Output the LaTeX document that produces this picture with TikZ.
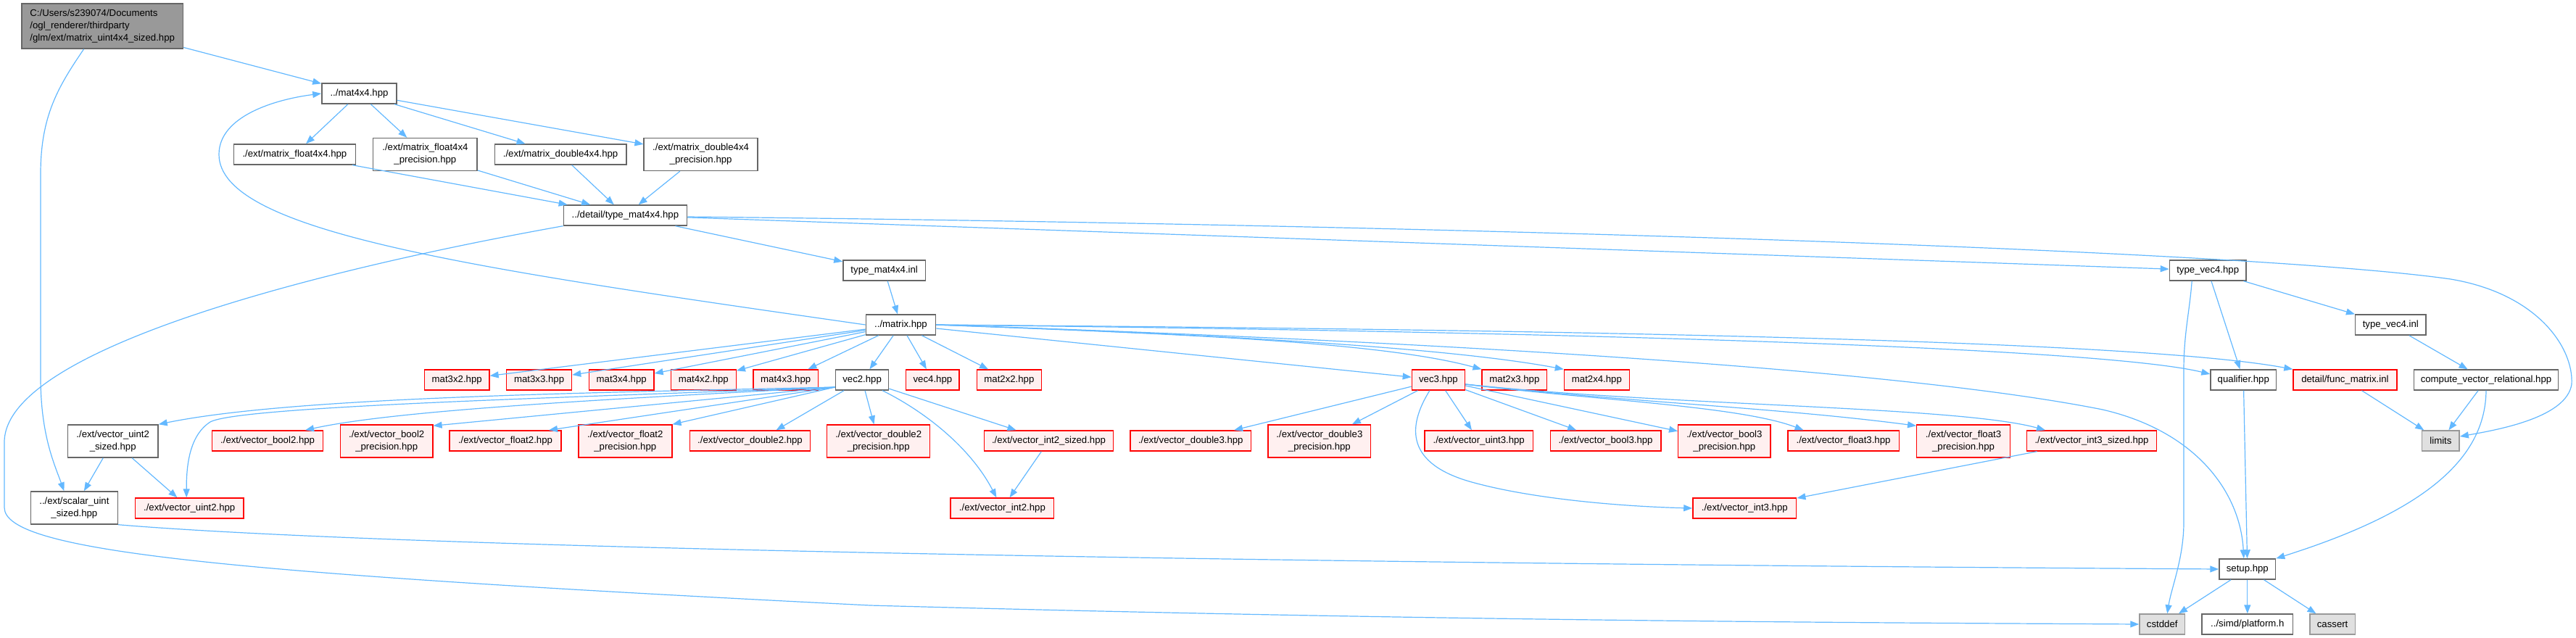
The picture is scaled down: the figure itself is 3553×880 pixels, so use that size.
\documentclass[tikz,border=0pt]{standalone}
\usepackage{fontspec}
\setmainfont{Liberation Sans}
\usetikzlibrary{arrows.meta}
\definecolor{edgeblue}{HTML}{63B8FF}
\definecolor{grayforty}{HTML}{666666}
\definecolor{graysixty}{HTML}{999999}
\definecolor{sysfill}{HTML}{E0E0E0}
\definecolor{redfill}{HTML}{FFF0F0}
\newcommand{\depfont}{\fontsize{13.2}{17}\selectfont}
\tikzstyle{hbox} = [rectangle, minimum height=28pt, inner sep=0pt, align=center, line width=1.4pt, font=\depfont]
\tikzstyle{hplain} = [hbox, draw=grayforty, fill=white]
\tikzstyle{hred} = [hbox, draw=red, fill=redfill]
\tikzstyle{hsys} = [hbox, draw=graysixty, fill=sysfill]
\tikzstyle{hroot} = [hbox, draw=grayforty, fill=graysixty, align=left, minimum height=62pt]
\tikzstyle{htwo} = [minimum height=45pt]
\tikzstyle{incl} = [draw=edgeblue, line width=1.2pt, -{Triangle[length=12pt,width=9pt]}]

\begin{document}
\begin{tikzpicture}[x=1pt, y=-1pt]
\useasboundingbox (0,0) rectangle (3553,880);
% Define nodes
\node (main) [hroot, minimum width=222.8] at (141.2,36) {C:/Users/s239074/Documents\\/ogl\_renderer/thirdparty\\/glm/ext/matrix\_uint4x4\_sized.hpp};
\node (mat4x4) [hplain, minimum width=103.3] at (495.5,129) {../mat4x4.hpp};
\node (matrixFloat4x4) [hplain, minimum width=168.4] at (406.4,213) {./ext/matrix\_float4x4.hpp};
\node (matrixFloat4x4Prec) [hplain, htwo, minimum width=143.5] at (586.4,213) {./ext/matrix\_float4x4\\\_precision.hpp};
\node (matrixDouble4x4) [hplain, minimum width=181.7] at (773.1,213) {./ext/matrix\_double4x4.hpp};
\node (matrixDouble4x4Prec) [hplain, htwo, minimum width=156.9] at (966.6,213) {./ext/matrix\_double4x4\\\_precision.hpp};
\node (typeMat4x4) [hplain, minimum width=170.3] at (862.4,297) {../detail/type\_mat4x4.hpp};
\node (typeMat4x4Inl) [hplain, minimum width=113.6] at (1219.7,373) {type\_mat4x4.inl};
\node (typeVec4) [hplain, minimum width=105.6] at (3045.2,373) {type\_vec4.hpp};
\node (matrix) [hplain, minimum width=96.4] at (1242.5,448) {../matrix.hpp};
\node (typeVec4Inl) [hplain, minimum width=97.3] at (3297.3,448) {type\_vec4.inl};
\node (mat3x2) [hred, minimum width=89.5] at (630.2,524) {mat3x2.hpp};
\node (mat3x3) [hred, minimum width=89.9] at (743.6,524) {mat3x3.hpp};
\node (mat3x4) [hred, minimum width=89.5] at (857.2,524) {mat3x4.hpp};
\node (mat4x2) [hred, minimum width=89.9] at (970.3,524) {mat4x2.hpp};
\node (mat4x3) [hred, minimum width=89.5] at (1083.7,524) {mat4x3.hpp};
\node (vec2) [hplain, minimum width=73.1] at (1189.1,524) {vec2.hpp};
\node (vec4) [hred, minimum width=73.5] at (1286.4,524) {vec4.hpp};
\node (mat2x2) [hred, minimum width=89.2] at (1391.9,524) {mat2x2.hpp};
\node (vec3) [hred, minimum width=73.1] at (1983.9,524) {vec3.hpp};
\node (mat2x3) [hred, minimum width=89.5] at (2088.9,524) {mat2x3.hpp};
\node (mat2x4) [hred, minimum width=89.9] at (2202.4,524) {mat2x4.hpp};
\node (qualifier) [hplain, minimum width=90.6] at (3094.3,524) {qualifier.hpp};
\node (funcMatrix) [hred, minimum width=142.8] at (3234.4,524) {detail/func\_matrix.inl};
\node (computeVecRel) [hplain, minimum width=198.6] at (3429.0,524) {compute\_vector\_relational.hpp};
\node (vectorUint2Sized) [hplain, htwo, minimum width=124.7] at (155.7,608.5) {./ext/vector\_uint2\\\_sized.hpp};
\node (vectorBool2) [hred, minimum width=152.7] at (369.1,608) {./ext/vector\_bool2.hpp};
\node (vectorBool2Prec) [hred, htwo, minimum width=127.4] at (533.2,608.5) {./ext/vector\_bool2\\\_precision.hpp};
\node (vectorFloat2) [hred, minimum width=154.2] at (697.0,608) {./ext/vector\_float2.hpp};
\node (vectorFloat2Prec) [hred, htwo, minimum width=129.0] at (862.3,608.5) {./ext/vector\_float2\\\_precision.hpp};
\node (vectorDouble2) [hred, minimum width=166.4] at (1034.5,608) {./ext/vector\_double2.hpp};
\node (vectorDouble2Prec) [hred, htwo, minimum width=142.0] at (1211.7,608.5) {./ext/vector\_double2\\\_precision.hpp};
\node (vectorInt2Sized) [hred, minimum width=178.3] at (1446.5,608) {./ext/vector\_int2\_sized.hpp};
\node (vectorDouble3) [hred, minimum width=166.8] at (1642.3,608) {./ext/vector\_double3.hpp};
\node (vectorDouble3Prec) [hred, htwo, minimum width=141.6] at (1819.9,608.5) {./ext/vector\_double3\\\_precision.hpp};
\node (vectorUint3) [hred, minimum width=149.6] at (2039.7,608) {./ext/vector\_uint3.hpp};
\node (vectorBool3) [hred, minimum width=152.7] at (2214.6,608) {./ext/vector\_bool3.hpp};
\node (vectorBool3Prec) [hred, htwo, minimum width=127.4] at (2378.4,608.5) {./ext/vector\_bool3\\\_precision.hpp};
\node (vectorFloat3) [hred, minimum width=153.4] at (2542.5,608) {./ext/vector\_float3.hpp};
\node (vectorFloat3Prec) [hred, htwo, minimum width=128.6] at (2708.0,608.5) {./ext/vector\_float3\\\_precision.hpp};
\node (vectorInt3Sized) [hred, minimum width=178.7] at (2885.0,608) {./ext/vector\_int3\_sized.hpp};
\node (limits) [hsys, minimum width=51.5] at (3366.4,608) {limits};
\node (scalarUintSized) [hplain, htwo, minimum width=119.8] at (102.4,700.5) {../ext/scalar\_uint\\\_sized.hpp};
\node (vectorUint2) [hred, minimum width=149.6] at (261.2,701) {./ext/vector\_uint2.hpp};
\node (vectorInt2) [hred, minimum width=142.7] at (1382.4,701) {./ext/vector\_int2.hpp};
\node (vectorInt3) [hred, minimum width=142.8] at (2406.3,701) {./ext/vector\_int3.hpp};
\node (setup) [hplain, minimum width=77.6] at (3099.8,785) {setup.hpp};
\node (cstddef) [hsys, minimum width=62.4] at (2982.2,861) {cstddef};
\node (platform) [hplain, minimum width=125.6] at (3099.8,861) {../simd/platform.h};
\node (cassert) [hsys, minimum width=62.4] at (3217.1,861) {cassert};
% Connect nodes with arrows
\draw [incl] (main) -- (mat4x4);
\draw [incl] ([xshift=-25.6pt]main.south) .. controls (80,120) and (56,160) .. (56,240) -- (56,520) .. controls (56,600) and (75,640) .. ([xshift=-14pt]scalarUintSized.north);
\draw [incl] (mat4x4) -- (matrixFloat4x4);
\draw [incl] (mat4x4) -- (matrixFloat4x4Prec);
\draw [incl] (mat4x4) -- (matrixDouble4x4);
\draw [incl] (mat4x4) -- (matrixDouble4x4Prec);
\draw [incl] (matrixFloat4x4) -- (typeMat4x4);
\draw [incl] (matrixFloat4x4Prec) -- (typeMat4x4);
\draw [incl] (matrixDouble4x4) -- (typeMat4x4);
\draw [incl] (matrixDouble4x4Prec) -- (typeMat4x4);
\draw [incl] (typeMat4x4) -- (typeMat4x4Inl);
\draw [incl] (typeMat4x4) -- (typeVec4);
\draw [incl] ([yshift=-2pt]typeMat4x4.east) .. controls (2000,310) and (3100,345) .. (3380,385) .. controls (3500,405) and (3550,480) .. (3547,530) .. controls (3540,575) and (3450,592) .. ([yshift=6pt]limits.east);
\draw [incl] (typeMat4x4.south west) .. controls (450,370) and (6,480) .. (6,610) -- (6,700) .. controls (6,760) and (300,790) .. (1200,835) .. controls (2000,857) and (2600,859) .. (cstddef.west);
\draw [incl] (typeMat4x4Inl) -- (matrix);
\draw [incl] (matrix.west) .. controls (650,370) and (302,320) .. (302,213) .. controls (302,160) and (380,137) .. (mat4x4.west);
\draw [incl] (matrix) -- (mat3x2);
\draw [incl] (matrix) -- (mat3x3);
\draw [incl] (matrix) -- (mat3x4);
\draw [incl] (matrix) -- (mat4x2);
\draw [incl] (matrix) -- (mat4x3);
\draw [incl] (matrix) -- (vec2);
\draw [incl] (matrix) -- (vec4);
\draw [incl] (matrix) -- (mat2x2);
\draw [incl] (matrix) -- (vec3);
\draw [incl] (matrix.east) .. controls (1600,460) and (1900,470) .. (mat2x3.north west);
\draw [incl] (matrix.east) .. controls (1700,462) and (2000,480) .. (mat2x4.north west);
\draw [incl] (matrix.east) .. controls (2200,458) and (2900,480) .. ([yshift=8pt]qualifier.west);
\draw [incl] (matrix.east) .. controls (2200,455) and (2950,470) .. (funcMatrix.north west);
\draw [incl] (matrix.east) .. controls (1900,468) and (2600,505) .. (2900,565) .. controls (3030,595) and (3090,680) .. ([xshift=-5pt]setup.north);
\draw [incl] ([yshift=-10pt]vec2.west) .. controls (800,542) and (400,548) .. (vectorUint2Sized.north east);
\draw [incl] ([yshift=-10pt]vec2.west) .. controls (800,548) and (330,560) .. (290,582) .. controls (262,600) and (257,640) .. ([xshift=-4pt]vectorUint2.north);
\draw [incl] ([yshift=-10pt]vec2.west) .. controls (850,550) and (550,565) .. ([xshift=52pt]vectorBool2.north);
\draw [incl] ([yshift=-10pt]vec2.west) -- ([yshift=-2pt]vectorBool2Prec.north east);
\draw [incl] ([yshift=-10pt]vec2.west) -- ([xshift=60pt]vectorFloat2.north);
\draw [incl] ([yshift=-10pt]vec2.west) -- (vectorFloat2Prec.north east);
\draw [incl] ([xshift=-25pt]vec2.south) -- ([xshift=36pt]vectorDouble2.north);
\draw [incl] (vec2) -- (vectorDouble2Prec);
\draw [incl] (vec2) -- (vectorInt2Sized);
\draw [incl] ([xshift=28pt]vec2.south) .. controls (1280,570) and (1340,620) .. ([xshift=-8pt]vectorInt2.north);
\draw [incl] (vec3) -- (vectorDouble3);
\draw [incl] (vec3) -- (vectorDouble3Prec);
\draw [incl] (vec3) -- (vectorUint3);
\draw [incl] (vec3) -- (vectorBool3);
\draw [incl] (vec3) -- (vectorBool3Prec);
\draw [incl] ([yshift=-6pt]vec3.east) .. controls (2200,552) and (2400,560) .. ([xshift=-55pt]vectorFloat3.north);
\draw [incl] ([yshift=-6pt]vec3.east) .. controls (2250,555) and (2450,562) .. ([yshift=-2pt]vectorFloat3Prec.north west);
\draw [incl] ([yshift=-6pt]vec3.east) .. controls (2300,560) and (2700,560) .. ([xshift=-64pt]vectorInt3Sized.north);
\draw [incl] ([xshift=-12pt]vec3.south) .. controls (1940,590) and (1940,640) .. (2030,665) .. controls (2120,690) and (2250,699) .. (vectorInt3.west);
\draw [incl] (vectorUint2Sized) -- (scalarUintSized);
\draw [incl] (vectorUint2Sized) -- (vectorUint2);
\draw [incl] (vectorInt2Sized) -- (vectorInt2);
\draw [incl] (vectorInt3Sized) -- (vectorInt3);
\draw [incl] (scalarUintSized.south east) .. controls (500,752) and (1500,775) .. (setup.west);
\draw [incl] (typeVec4) -- (qualifier);
\draw [incl] (typeVec4) -- (typeVec4Inl);
\draw [incl] ([xshift=-22pt]typeVec4.south) .. controls (3020,430) and (3012,460) .. (3012,510) -- (3012,720) .. controls (3012,770) and (2995,810) .. ([xshift=7pt]cstddef.north);
\draw [incl] (typeVec4Inl) -- (computeVecRel);
\draw [incl] (computeVecRel) -- (limits);
\draw [incl] (computeVecRel.south) .. controls (3428,640) and (3330,710) .. (setup.north east);
\draw [incl] (funcMatrix) -- (limits);
\draw [incl] (qualifier) -- (setup);
\draw [incl] (setup) -- (cstddef);
\draw [incl] (setup) -- (platform);
\draw [incl] (setup) -- (cassert);
\end{tikzpicture}
\end{document}
